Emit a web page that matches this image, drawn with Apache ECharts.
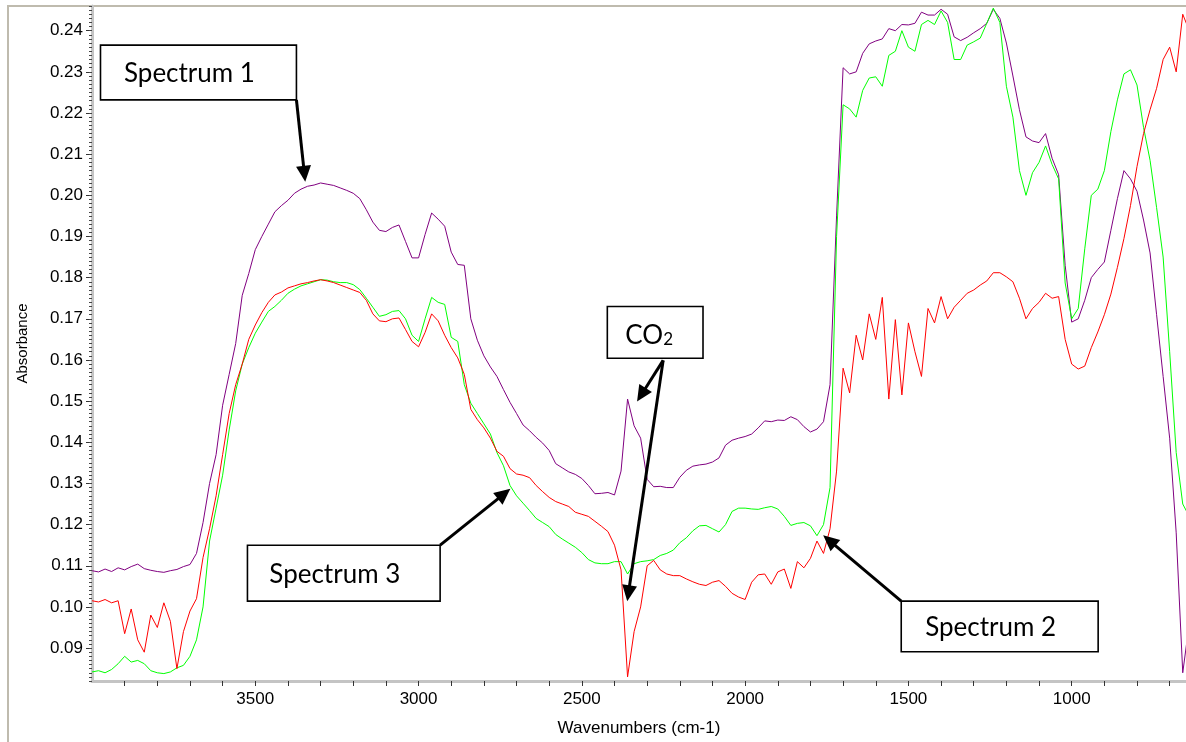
<!DOCTYPE html>
<html><head><meta charset="utf-8">
<script src="https://cdn.jsdelivr.net/npm/echarts@6/dist/echarts.min.js"></script>
<style>html,body{margin:0;padding:0;background:#fff;overflow:hidden}#c{width:1186px;height:742px}</style>
</head><body><div id="c"></div><script>
// wavenumbers (cm-1), 20 cm-1 step
const wavenumbers = [
4000,3980,3960,3940,3920, 3900,3880,3860,3840,3820, 3800,3780,3760,3740,3720, 3700,3680,3660,3640,3620,
3600,3580,3560,3540,3520, 3500,3480,3460,3440,3420, 3400,3380,3360,3340,3320, 3300,3280,3260,3240,3220,
3200,3180,3160,3140,3120, 3100,3080,3060,3040,3020, 3000,2980,2960,2940,2920, 2900,2880,2860,2840,2820,
2800,2780,2760,2740,2720, 2700,2680,2660,2640,2620, 2600,2580,2560,2540,2520, 2500,2480,2460,2440,2420,
2400,2380,2360,2340,2320, 2300,2280,2260,2240,2220, 2200,2180,2160,2140,2120, 2100,2080,2060,2040,2020,
2000,1980,1960,1940,1920, 1900,1880,1860,1840,1820, 1800,1780,1760,1740,1720, 1700,1680,1660,1640,1620,
1600,1580,1560,1540,1520, 1500,1480,1460,1440,1420, 1400,1380,1360,1340,1320, 1300,1280,1260,1240,1220,
1200,1180,1160,1140,1120, 1100,1080,1060,1040,1020, 1000,980,960,940,920, 900,880,860,840,820,
800,780,760,740,720, 700,680,660,640,620];

const spectrum1 = [
0.1088,0.1085,0.1092,0.1086,0.1095, 0.1090,0.1098,0.1104,0.1093,0.1089, 0.1086,0.1084,0.1088,0.1091,0.1098, 0.1103,0.1130,0.1205,0.1300,0.1370,
0.1490,0.1565,0.1640,0.1757,0.1810, 0.1868,0.1900,0.1930,0.1960,0.1975, 0.1988,0.2005,0.2015,0.2022,0.2025, 0.2030,0.2027,0.2024,0.2018,0.2012,
0.2005,0.1992,0.1965,0.1935,0.1915, 0.1912,0.1922,0.1928,0.1888,0.1848, 0.1848,0.1905,0.1957,0.1942,0.1925, 0.1862,0.1832,0.1830,0.1700,0.1648,
0.1610,0.1583,0.1560,0.1528,0.1497, 0.1470,0.1442,0.1428,0.1412,0.1398, 0.1380,0.1348,0.1338,0.1328,0.1322, 0.1312,0.1295,0.1275,0.1276,0.1278,
0.1272,0.1330,0.1505,0.1440,0.1410, 0.1310,0.1292,0.1293,0.1290,0.1290, 0.1315,0.1332,0.1342,0.1345,0.1347, 0.1352,0.1362,0.1393,0.1405,0.1410,
0.1414,0.1420,0.1435,0.1452,0.1450, 0.1454,0.1453,0.1462,0.1455,0.1438, 0.1425,0.1432,0.1450,0.1540,0.1950, 0.2310,0.2295,0.2300,0.2345,0.2368,
0.2375,0.2380,0.2405,0.2400,0.2415, 0.2414,0.2418,0.2445,0.2438,0.2438, 0.2452,0.2440,0.2385,0.2376,0.2384, 0.2395,0.2405,0.2418,0.2452,0.2430,
0.2370,0.2290,0.2208,0.2142,0.2132, 0.2128,0.2150,0.2090,0.2050,0.1830, 0.1692,0.1700,0.1745,0.1800,0.1820, 0.1838,0.1915,0.1992,0.2060,0.2040,
0.2010,0.1940,0.1860,0.1710,0.1560, 0.1410,0.1180,0.0840,0.0960,0.0920];

const spectrum2 = [
0.1015,0.1012,0.1018,0.1010,0.1015, 0.0935,0.0995,0.0920,0.0890,0.0980, 0.0950,0.1010,0.0965,0.0850,0.0940, 0.0990,0.1020,0.1120,0.1190,0.1270,
0.1370,0.1470,0.1540,0.1590,0.1650, 0.1685,0.1715,0.1740,0.1758,0.1765, 0.1775,0.1780,0.1785,0.1788,0.1792, 0.1795,0.1792,0.1788,0.1782,0.1776,
0.1770,0.1764,0.1745,0.1712,0.1695, 0.1693,0.1700,0.1702,0.1674,0.1645, 0.1632,0.1667,0.1712,0.1695,0.1660, 0.1630,0.1605,0.1565,0.1480,0.1455,
0.1435,0.1410,0.1378,0.1366,0.1336, 0.1323,0.1320,0.1314,0.1295,0.1280, 0.1266,0.1256,0.1250,0.1244,0.1230, 0.1225,0.1220,0.1208,0.1196,0.1183,
0.1150,0.1090,0.0830,0.0940,0.1000, 0.1100,0.1113,0.1090,0.1080,0.1076, 0.1076,0.1068,0.1061,0.1055,0.1052, 0.1060,0.1064,0.1050,0.1033,0.1024,
0.1018,0.1060,0.1078,0.1080,0.1055, 0.1085,0.1092,0.1045,0.1110,0.1095, 0.1118,0.1160,0.1130,0.1190,0.1330, 0.1580,0.1520,0.1660,0.1600,0.1712,
0.1650,0.1752,0.1505,0.1698,0.1515, 0.1690,0.1620,0.1560,0.1725,0.1690, 0.1754,0.1700,0.1728,0.1745,0.1762, 0.1770,0.1782,0.1792,0.1812,0.1812,
0.1802,0.1790,0.1750,0.1700,0.1725, 0.1740,0.1762,0.1750,0.1754,0.1650, 0.1590,0.1578,0.1585,0.1630,0.1668, 0.1710,0.1760,0.1825,0.1895,0.1975,
0.2070,0.2150,0.2208,0.2260,0.2330, 0.2360,0.2300,0.2440,0.2400,0.2420];

const spectrum3 = [
0.0842,0.0845,0.0840,0.0848,0.0862, 0.0880,0.0866,0.0870,0.0862,0.0845, 0.0840,0.0838,0.0842,0.0852,0.0858, 0.0880,0.0920,0.1000,0.1160,0.1240,
0.1320,0.1430,0.1525,0.1590,0.1630, 0.1665,0.1692,0.1718,0.1730,0.1745, 0.1762,0.1772,0.1780,0.1785,0.1790, 0.1795,0.1794,0.1790,0.1788,0.1788,
0.1783,0.1771,0.1750,0.1728,0.1706, 0.1710,0.1718,0.1720,0.1700,0.1660, 0.1645,0.1700,0.1752,0.1740,0.1735, 0.1655,0.1645,0.1540,0.1495,0.1470,
0.1445,0.1420,0.1375,0.1343,0.1295, 0.1270,0.1252,0.1234,0.1215,0.1205, 0.1195,0.1176,0.1165,0.1155,0.1145, 0.1132,0.1115,0.1107,0.1105,0.1105,
0.1110,0.1110,0.1080,0.1105,0.1110, 0.1112,0.1115,0.1125,0.1130,0.1138, 0.1156,0.1168,0.1185,0.1197,0.1198, 0.1190,0.1182,0.1200,0.1232,0.1240,
0.1240,0.1238,0.1237,0.1241,0.1244, 0.1238,0.1220,0.1198,0.1203,0.1205, 0.1197,0.1173,0.1200,0.1290,0.1900, 0.2220,0.2210,0.2190,0.2255,0.2285,
0.2288,0.2265,0.2340,0.2350,0.2400, 0.2360,0.2350,0.2415,0.2425,0.2415, 0.2448,0.2420,0.2330,0.2330,0.2365, 0.2373,0.2382,0.2418,0.2455,0.2420,
0.2265,0.2190,0.2060,0.2000,0.2055, 0.2080,0.2120,0.2075,0.2040,0.1787, 0.1700,0.1725,0.1870,0.2000,0.2015, 0.2060,0.2155,0.2232,0.2295,0.2305,
0.2268,0.2165,0.2085,0.1970,0.1850, 0.1620,0.1375,0.1250,0.1220,0.1200];

const seriesNames = ['Spectrum 1', 'Spectrum 2', 'Spectrum 3'];
const seriesColors = ['#800080', '#ff0000', '#00ff00'];

const yTickLabels = [0.09,0.10,0.11,0.12,0.13,0.14,0.15,0.16,0.17,0.18,0.19,0.20,0.21,0.22,0.23,0.24];
const xTickLabels = [1000,1500,2000,2500,3000,3500];
const xTicks = [700,800,900,1000,1100,1200,1300,1400,1500,1600,1700,1800,1900,2000,2100,2200,2300,2400,2500,2600,2700,2800,2900,3000,3100,3200,3300,3400,3500,3600,3700,3800,3900];

// annotation boxes in data coordinates: [w1, a1, w2, a2]
const boxLabels = ['Spectrum 1', 'Spectrum 3', 'Spectrum 2', 'CO2'];
const boxCorners = [[3974,0.2365,3374,0.2232],[3524,0.1150,2934,0.1014],[1522,0.1014,919,0.0891],[2422,0.1730,2129,0.1604]];
const arrowFrom = [[3374,0.2232],[2934,0.1150],[1522,0.1014],[2251,0.1599],[2251,0.1599]];
const arrowTo = [[3347,0.2033],[2719,0.1287],[1761,0.1174],[2331,0.1499],[2361,0.1014]];

const yMinor = [];
for (let k = 82; k <= 246; k++) yMinor.push(k / 1000);

const tickFont = {color:'#000', fontFamily:'Liberation Sans', fontSize:17};

const chart = echarts.init(document.getElementById('c'), null, {renderer:'canvas'});
const option = {
  animation:false,
  backgroundColor:'#fff',
  grid:{left:92, right:0, top:6, bottom:60, containLabel:false},
  xAxis:{type:'value', inverse:true, min:650, max:4000,
    axisLine:{show:true, onZero:false, lineStyle:{color:'#c4c4c4', width:3}},
    axisTick:{show:true, customValues:xTicks, length:5, lineStyle:{color:'#333', width:1}},
    axisLabel:Object.assign({customValues:xTickLabels, margin:10, formatter:v=>String(v)}, tickFont),
    splitLine:{show:false},
    name:'Wavenumbers (cm-1)', nameLocation:'middle', nameGap:39,
    nameTextStyle:{color:'#000', fontFamily:'Liberation Sans', fontSize:17}},
  yAxis:[
    {type:'value', min:0.082, max:0.246, position:'left',
     axisLine:{show:true, onZero:false, lineStyle:{color:'#c4c4c4', width:3}},
     axisTick:{show:true, customValues:yTickLabels, length:6, lineStyle:{color:'#333', width:1}},
     axisLabel:Object.assign({customValues:yTickLabels, margin:9, formatter:v=>v.toFixed(2)}, tickFont),
     splitLine:{show:false},
     name:'Absorbance', nameLocation:'middle', nameGap:62, nameRotate:90,
     nameTextStyle:{color:'#000', fontFamily:'Liberation Sans', fontSize:15}},
    {type:'value', min:0.082, max:0.246, position:'left',
     axisLine:{show:false},
     axisTick:{show:true, customValues:yMinor, length:3, lineStyle:{color:'#444', width:1}},
     axisLabel:{show:false}, splitLine:{show:false}}
  ],
  series:[0,2,1].map(i => ({
    name:seriesNames[i], type:'line', symbol:'none', showSymbol:false, silent:true,
    color:seriesColors[i], lineStyle:{width:1, color:seriesColors[i]},
    data:wavenumbers.map((w, j) => [w, [spectrum1, spectrum2, spectrum3][i][j]]),
    clip:true
  }))
};
chart.setOption(option);

function px(p){ return chart.convertToPixel({xAxisIndex:0, yAxisIndex:0}, p); }
const g = [];
g.push({type:'rect', shape:{x:8, y:6, width:2000, height:2000}, style:{fill:null, stroke:'#bfbbae', lineWidth:2}, silent:true, z:0});
boxCorners.forEach((b, i) => {
  const p1 = px([b[0], b[1]]), p2 = px([b[2], b[3]]);
  const x = Math.min(p1[0], p2[0]), y = Math.min(p1[1], p2[1]);
  const w = Math.abs(p2[0]-p1[0]), h = Math.abs(p2[1]-p1[1]);
  g.push({type:'rect', shape:{x:x, y:y, width:w, height:h}, style:{fill:'#fff', stroke:'#000', lineWidth:1.6}, z:100, silent:true});
  const isCO2 = boxLabels[i] === 'CO2';
  g.push({type:'text', x:x + w/2 + (isCO2 ? -6 : -9), y:y + h/2 + 1, z:101, silent:true,
    style: isCO2 ? {text:'{m|CO}{s|2}', textAlign:'center', textVerticalAlign:'middle',
        rich:{m:{fontFamily:'Lato', fontSize:26, lineHeight:30, verticalAlign:'bottom', fill:'#000'},
              s:{fontFamily:'Lato', fontSize:17, lineHeight:20, verticalAlign:'bottom', fill:'#000'}}}
      : {text:boxLabels[i], textAlign:'center', textVerticalAlign:'middle', font:'26px Lato', fill:'#000'}});
});
arrowFrom.forEach((f, i) => {
  const a = px(f), b = px(arrowTo[i]);
  const dx = b[0]-a[0], dy = b[1]-a[1], L = Math.hypot(dx, dy);
  const ux = dx/L, uy = dy/L, head = 16, hw = 7.5;
  const bx = b[0]-ux*head, by = b[1]-uy*head;
  g.push({type:'line', shape:{x1:a[0], y1:a[1], x2:bx+ux*2, y2:by+uy*2}, style:{stroke:'#000', lineWidth:3}, z:102, silent:true});
  g.push({type:'polygon', shape:{points:[[b[0],b[1]],[bx-uy*hw, by+ux*hw],[bx+uy*hw, by-ux*hw]]}, style:{fill:'#000'}, z:102, silent:true});
});
chart.setOption({graphic:g});
</script></body></html>
